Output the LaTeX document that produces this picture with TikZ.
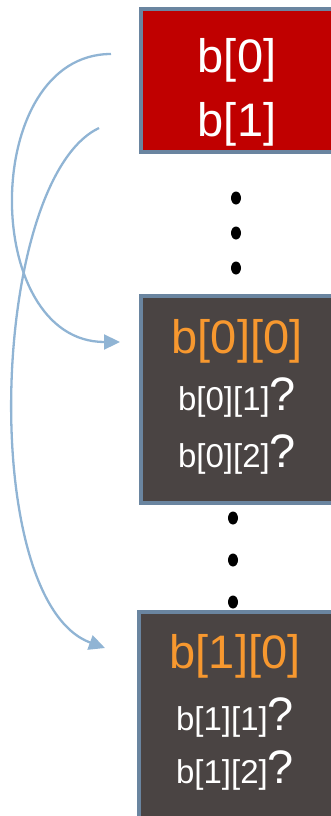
\documentclass[tikz,border=0pt]{standalone}
\usepackage{fontspec}
\setmainfont{Liberation Sans}
\usetikzlibrary{arrows.meta,positioning}
\definecolor{edge}{HTML}{6A85A0}
\definecolor{ptrred}{HTML}{C00000}
\definecolor{cellgray}{HTML}{4A4443}
\definecolor{idx}{HTML}{F7982F}
\definecolor{link}{HTML}{90B4D4}
\begin{document}
\begin{tikzpicture}[x=1pt,y=-1pt,
  box/.style={draw=edge,line width=3.5pt,minimum width=192pt,inner sep=0pt},
  big/.style={font=\fontsize{47}{47}\selectfont,text=white,anchor=base,inner sep=0pt},
  small/.style={font=\fontsize{33}{33}\selectfont,text=white,anchor=base,inner sep=0pt},
  ptr/.style={-{Triangle[length=16pt,width=15pt]},draw=link,line width=2.3pt}]
\useasboundingbox (0,0) rectangle (331,816);
\node[box,fill=ptrred,minimum height=143pt] (b) at (237,80.5) {};
\node[box,fill=cellgray,minimum height=207pt] (row0) at (237,399.5) {};
\node[box,fill=cellgray,minimum height=230pt,minimum width=194pt] (row1) at (236,727) {};
\node[big] (b0) at (237,72) {b[0]};
\node[big] (b1) at (237,136) {b[1]};
\node[big,text=idx] (b00) at (237,353) {b[0][0]};
\node[small] (b01) at (237,410) {b[0][1]{\fontsize{47}{47}\selectfont ?}};
\node[small] (b02) at (237,467) {b[0][2]{\fontsize{47}{47}\selectfont ?}};
\node[big,text=idx] (b10) at (235,668) {b[1][0]};
\node[small] (b11) at (235,730) {b[1][1]{\fontsize{47}{47}\selectfont ?}};
\node[small] (b12) at (235,783) {b[1][2]{\fontsize{47}{47}\selectfont ?}};
\foreach \y in {198,233,268} \fill (236,\y) ellipse (5 and 6.5);
\foreach \y in {518,560,602} \fill (233,\y) ellipse (5 and 6.5);
\coordinate (s0) at (111,54);
\coordinate (s1) at (99,128);
\coordinate (t0) at (120,342);
\coordinate (t1) at (105,648);
\draw[ptr] (s0) .. controls (-20,54) and (-20,342) .. (t0);
\draw[ptr] (s1) .. controls (-10,180) and (-23,601) .. (t1);
\end{tikzpicture}
\end{document}
